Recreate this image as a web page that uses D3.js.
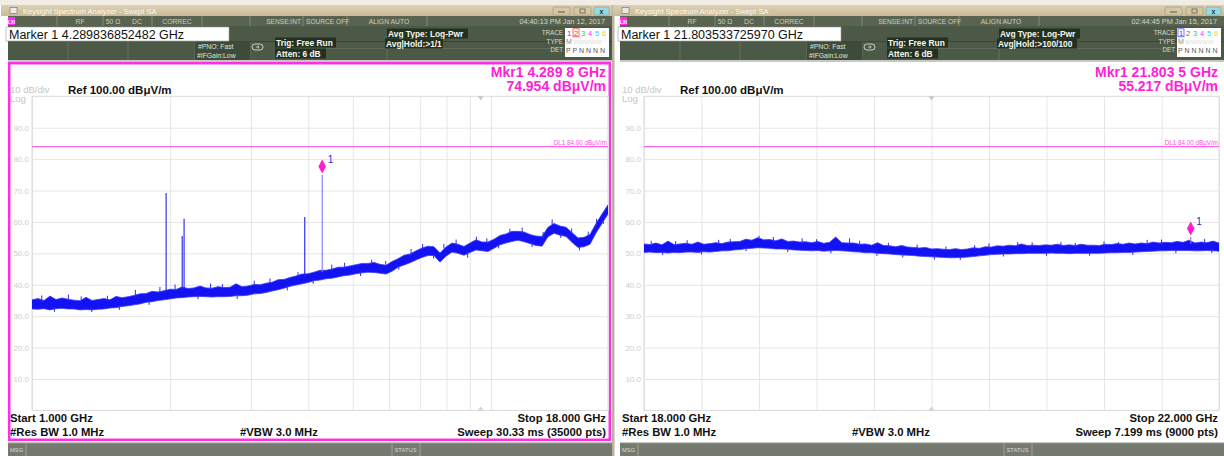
<!DOCTYPE html>
<html>
<head>
<meta charset="utf-8">
<script src="https://cdn.jsdelivr.net/npm/d3@7"></script>
<style>
body { margin: 0; background: #fff; }
svg { display: block; font-family: "Liberation Sans", Arial, sans-serif; }
</style>
</head>
<body>
<svg id="chart" width="1224" height="456"></svg>
<script>
const yTicks = [10, 20, 30, 40, 50, 60, 70, 80, 90];
const refLevel = 100;
const displayLine = 84;

// left screen: 1 - 18 GHz, log sweep
const leftSpan = [1, 18];
const leftGridGHz = [1, 2, 3, 4, 5, 6, 7, 8, 9, 10, 18];
const leftTraceHi = [35.2,35.6,35.0,36.4,35.3,35.8,35.4,35.1,34.9,36.0,
  35.0,35.3,35.6,35.2,36.3,35.9,36.2,36.6,37.1,37.2,
  37.9,37.7,38.1,38.6,38.5,39.3,38.8,39.0,39.6,39.0,
  38.9,39.4,39.1,39.2,40.3,39.4,39.6,40.1,40.0,40.5,
  40.8,41.6,41.7,42.3,42.8,43.4,43.5,44.0,44.6,44.6,
  45.0,45.6,45.6,46.0,46.4,46.8,46.8,47.1,46.5,46.2,
  47.4,48.3,49.4,49.8,50.8,51.7,52.3,52.1,50.1,52.0,
  53.3,52.9,52.2,53.3,54.3,53.6,53.6,54.5,55.7,56.2,
  57.0,57.0,56.8,56.0,55.5,55.4,58.3,59.5,58.7,58.3,
  56.6,54.9,55.1,56.0,59.5,62.5,65.5];
const leftTraceLo = [32.3,32.2,32.4,32.0,32.4,32.5,32.3,32.3,32.0,32.1,
  32.0,32.2,32.3,32.6,32.7,33.1,33.3,33.6,33.9,34.4,
  34.6,35.0,35.2,35.5,35.8,35.9,36.1,36.2,36.3,36.2,
  36.1,36.2,36.2,36.3,36.5,36.5,36.7,37.1,37.2,37.5,
  38.0,38.4,38.9,39.5,39.9,40.3,40.7,41.3,41.5,41.9,
  42.1,42.5,42.9,43.1,43.5,43.8,44.0,43.9,43.7,43.4,
  44.3,45.6,46.3,47.0,47.9,48.7,49.3,49.3,47.2,49.1,
  50.4,50.0,49.4,50.3,51.1,50.8,50.6,51.6,52.7,53.3,
  53.8,54.2,53.7,53.1,52.5,52.3,55.3,56.4,55.8,55.4,
  53.5,51.9,52.1,52.9,56.5,59.5,62.5];
// single-point noise peaks poking out of the band
const leftNoiseGHz = [1.05,1.12,1.2,1.28,1.35,1.46,1.55,1.68,1.8,1.9,2.05,2.3,2.45,2.6,2.8,3.05,
  3.3,3.6,3.8,4.1,4.5,4.8,5.2,5.5,5.9,6.3,6.7,7.1,7.5,7.9,8.4,8.9,9.3,9.8,10.4,11,11.7,
  12.3,13,13.6,14.2,15,15.6,16.3,17,17.6];
const leftNoiseTip = [36.6,31.4,36.9,36.3,31.3,36.5,32.0,38.4,33.6,39.3,40.1,35.4,40.4,40.2,35.5,41.3,
  42.0,38.2,44.0,40.3,46.4,47.0,42.8,48.0,47.6,44.8,51.4,53.0,48.4,53.0,54.4,48.6,55.3,54.8,51.6,57.8,58.2,
  52.0,56.8,60.8,54.9,57.9,51.0,56.9,61.0,59.4];
const leftSpurGHz = [1.96, 2.125, 2.145, 3.93, 4.2898];
const leftSpurTop = [69.2, 55.5, 61.0, 61.6, 74.954];
const leftSpurBase = [37.5, 38.0, 38.0, 42.5, 44.0];
const leftMarker = [4.2898, 74.954];

// right screen: 18 - 22 GHz, linear sweep
const rightSpan = [18, 22];
const rightGridGHz = [18, 18.4, 18.8, 19.2, 19.6, 20, 20.4, 20.8, 21.2, 21.6, 22];
const rightTraceHi = [53.0,52.8,53.3,52.7,53.9,52.8,53.0,53.2,52.9,53.6,
  52.9,53.1,53.4,53.1,53.6,53.7,53.8,54.5,54.2,55.0,
  54.3,54.4,54.0,54.6,53.8,53.9,53.6,53.7,53.4,53.8,
  53.2,53.5,55.2,53.4,53.3,53.3,52.9,53.0,52.6,53.4,
  52.5,52.4,52.1,52.5,52.0,51.9,51.7,51.9,51.4,51.5,
  51.3,51.2,51.5,51.2,51.4,51.8,51.6,52.1,52.0,52.4,
  52.3,52.6,52.4,53.0,52.5,52.6,52.5,52.7,52.6,52.9,
  52.5,52.7,52.5,52.9,52.6,52.6,52.5,52.9,52.8,53.1,
  52.9,53.3,53.0,53.3,53.1,53.6,53.3,53.5,53.4,53.8,
  53.5,54.2,53.3,53.6,53.4,53.9,53.3];
const rightTraceLo = [50.3,50.4,50.2,50.3,50.1,50.3,50.2,50.4,50.4,50.3,
  50.5,50.4,50.6,50.8,50.8,51.1,51.2,51.5,51.6,51.8,
  51.7,51.6,51.4,51.4,51.3,51.1,51.0,50.9,50.8,50.9,
  50.7,50.8,50.9,50.8,50.7,50.5,50.4,50.2,50.2,50.0,
  49.9,49.8,49.6,49.5,49.4,49.3,49.1,49.0,48.9,48.8,
  48.7,48.6,48.6,48.7,48.8,49.0,49.2,49.4,49.6,49.7,
  49.8,49.8,49.9,49.9,50.0,50.0,50.0,50.0,50.1,50.0,
  50.0,49.9,50.0,50.0,50.0,50.0,50.0,50.1,50.2,50.2,
  50.3,50.3,50.4,50.5,50.6,50.7,50.8,50.8,50.9,50.9,
  50.9,50.9,50.8,50.8,50.9,50.8,50.7];
const rightNoiseGHz = [18.05,18.13,18.22,18.3,18.4,18.52,18.6,18.71,18.8,18.9,19.0,19.1,19.2,19.3,19.43,
  19.5,19.62,19.7,19.8,19.9,20.02,20.1,20.2,20.3,20.4,20.5,20.6,20.7,20.8,20.9,21.0,21.1,21.2,21.3,
  21.4,21.5,21.6,21.7,21.9,21.95];
const rightNoiseTip = [54.0,49.4,53.9,54.2,49.6,54.3,54.6,50.7,55.6,55.2,50.4,54.8,54.5,50.0,54.8,
  54.0,49.2,53.4,48.7,52.8,48.0,52.2,47.9,52.6,53.2,49.0,53.6,53.5,49.2,53.6,53.3,49.2,53.8,53.6,
  49.5,54.3,54.4,50.0,54.6,50.1];
const rightSpurGHz = [21.8035];
const rightSpurTop = [55.217];
const rightSpurBase = [53.0];
const rightMarker = [21.8035, 55.217];

const leftText = {
  time: '04:40:13 PM Jan 12, 2017', marker: 'Marker 1 4.289836852482 GHz',
  hold: 'Avg|Hold:>1/1', det: 'P P N N N N', active: 2,
  mkrF: 'Mkr1 4.289 8 GHz', mkrV: '74.954 dB\u03bcV/m',
  start: 'Start 1.000 GHz', stop: 'Stop 18.000 GHz', sweep: 'Sweep  30.33 ms (35000 pts)'
};
const rightText = {
  time: '02:44:45 PM Jan 15, 2017', marker: 'Marker 1 21.803533725970 GHz',
  hold: 'Avg|Hold:>100/100', det: 'P N N N N N', active: 1,
  mkrF: 'Mkr1 21.803 5 GHz', mkrV: '55.217 dB\u03bcV/m',
  start: 'Start 18.000 GHz', stop: 'Stop 22.000 GHz', sweep: 'Sweep  7.199 ms (9000 pts)'
};

const svg = d3.select('#chart');
const FONT = '"Liberation Sans", Arial, sans-serif';

const defs = svg.append('defs');
const grad = defs.append('linearGradient').attr('id', 'tbar').attr('x1', 0).attr('x2', 0).attr('y1', 0).attr('y2', 1);
grad.append('stop').attr('offset', 0).attr('stop-color', '#ddd1b3');
grad.append('stop').attr('offset', 1).attr('stop-color', '#c9bb97');

function txt(g, x, y, s, size, fill, opts) {
  opts = opts || {};
  return g.append('text').attr('x', x).attr('y', y).text(s)
    .attr('font-size', size).attr('fill', fill)
    .attr('font-weight', opts.bold ? 'bold' : null)
    .attr('text-anchor', opts.anchor || 'start');
}

function drawWindow(ox, t, active) {
  const g = svg.append('g').attr('transform', `translate(${ox},0)`);

  // title bar
  g.append('rect').attr('x', 0).attr('y', 0).attr('width', 612).attr('height', 5).attr('fill', '#f1ede5');
  g.append('rect').attr('x', 1).attr('y', 5).attr('width', 611).attr('height', 11).attr('fill', 'url(#tbar)');
  g.append('rect').attr('x', 10).attr('y', 7.5).attr('width', 7).attr('height', 6).attr('fill', '#e9e9e9').attr('stroke', '#6c6c6c').attr('stroke-width', 0.6);
  txt(g, 23, 13.5, 'Keysight Spectrum Analyzer - Swept SA', 7.5, '#fbf8f0');
  [[553, '#d3c7a6'], [574, '#d3c7a6'], [594, '#90dbea']].forEach(([bx, c], i) => {
    g.append('rect').attr('x', bx).attr('y', 7).attr('width', i === 2 ? 15 : 17).attr('height', 8)
      .attr('fill', c).attr('stroke', '#a5946c').attr('stroke-width', 0.6).attr('rx', 1);
  });
  g.append('line').attr('x1', 558).attr('x2', 565).attr('y1', 12).attr('y2', 12).attr('stroke', '#555');
  g.append('rect').attr('x', 580).attr('y', 9).attr('width', 5).attr('height', 4).attr('fill', 'none').attr('stroke', '#555').attr('stroke-width', 0.7);
  txt(g, 601.5, 14, 'x', 7, '#333', { anchor: 'middle', bold: true });

  // status row
  g.append('rect').attr('x', 8).attr('y', 16).attr('width', 604).attr('height', 10).attr('fill', '#59634f');
  g.append('rect').attr('x', 8).attr('y', 17).attr('width', 7).attr('height', 8).attr('fill', '#ff2cf0');
  txt(g, 11.5, 23.5, 'LXI', 4.5, '#fff', { anchor: 'middle', bold: true });
  [57, 103, 152, 202, 250, 303, 347, 427].forEach(d => {
    g.append('line').attr('x1', d).attr('x2', d).attr('y1', 16).attr('y2', 26).attr('stroke', '#8b9483').attr('stroke-width', 0.8);
  });
  [['RF', 80], ['50 \u03a9', 113], ['DC', 137], ['CORREC', 177], ['ALIGN AUTO', 389]]
    .forEach(([s, cx]) => txt(g, cx, 23.8, s, 6.8, '#c9d0c2', { anchor: 'middle' }));
  txt(g, 301, 23.8, 'SENSE:INT', 6.6, '#c9d0c2', { anchor: 'end' });
  txt(g, 306, 23.8, 'SOURCE OFF', 6.6, '#c9d0c2');
  txt(g, 605, 23.8, t.time, 7.3, '#d2d8cc', { anchor: 'end' });

  // settings block
  g.append('rect').attr('x', 8).attr('y', 26).attr('width', 604).attr('height', 35).attr('fill', '#4d5947');
  g.append('line').attr('x1', 229).attr('x2', 612).attr('y1', 41.5).attr('y2', 41.5).attr('stroke', '#3a4536');
  g.append('line').attr('x1', 300).attr('x2', 560).attr('y1', 48.5).attr('y2', 48.5).attr('stroke', '#66725f').attr('stroke-width', 0.7);
  [68, 128, 195, 250, 387].forEach(d => {
    g.append('line').attr('x1', d).attr('x2', d).attr('y1', 42).attr('y2', 60).attr('stroke', '#6a7663').attr('stroke-width', 0.8);
  });
  g.append('rect').attr('x', 6).attr('y', 27).attr('width', 223).attr('height', 14).attr('fill', '#fff').attr('stroke', '#9aa094').attr('stroke-width', 0.6);
  txt(g, 9, 39, t.marker, 12.5, '#111');

  g.append('rect').attr('x', 195).attr('y', 42).attr('width', 55).attr('height', 18).attr('fill', '#3e4b3b');
  txt(g, 198, 48.8, '#PNO: Fast', 6.8, '#dfe6d8');
  txt(g, 197, 57.5, '#IFGain:Low', 6.8, '#dfe6d8');
  g.append('rect').attr('x', 252).attr('y', 44).attr('width', 11).attr('height', 6).attr('rx', 3)
    .attr('fill', 'none').attr('stroke', '#e8ece4').attr('stroke-width', 0.8);
  g.append('path').attr('d', 'M256,47 l3,0 l-1,-1.5 M259,47 l-1,1.5').attr('stroke', '#e8ece4').attr('stroke-width', 0.7).attr('fill', 'none');

  const boxes = [
    ['Trig: Free Run', 276, 45.5, 61],
    ['Atten: 6 dB', 276, 56.5, 51],
    ['Avg Type: Log-Pwr', 388, 36.5, 81],
    [t.hold, 386, 46.5, t.hold.length > 14 ? 80 : 58]
  ];
  boxes.forEach(([s, bx, by, bw]) => {
    g.append('rect').attr('x', bx - 1).attr('y', by - 8).attr('width', bw).attr('height', 10).attr('fill', '#24301f');
    txt(g, bx, by, s, 8.4, '#f4f7f0', { bold: true });
  });

  // trace info box
  g.append('rect').attr('x', 565).attr('y', 28).attr('width', 44).attr('height', 29).attr('fill', '#fff');
  [['TRACE', 35], ['TYPE', 43.5], ['DET', 52]].forEach(([s, yy]) => txt(g, 563, yy, s, 6.3, '#d5dccd', { anchor: 'end' }));
  const trColors = ['#3a3aff', '#ff2a2a', '#2ed22e', '#ff2cff', '#20d0ff', '#f2d020'];
  trColors.forEach((c, i) => {
    const cx = 569 + i * 7;
    txt(g, cx, 35.5, String(i + 1), 7.5, c, { anchor: 'middle' });
    if (i + 1 === t.active) {
      g.append('rect').attr('x', cx - 3).attr('y', 28.8).attr('width', 6).attr('height', 8)
        .attr('fill', 'none').attr('stroke', c).attr('stroke-width', 0.7);
    }
  });
  txt(g, 566, 44, 'M', 7, '#8a8a8a');
  txt(g, 573, 44, 'WWWWW', 6, '#dcdcdc');
  txt(g, 566, 52.5, t.det, 7, '#555');

  g.append('rect').attr('x', 8).attr('y', 60).attr('width', 604).attr('height', 2).attr('fill', '#c5cac0');

  // plot background
  g.append('rect').attr('x', 8).attr('y', 62).attr('width', 604).attr('height', 380).attr('fill', '#fff');

  // bottom bar
  g.append('rect').attr('x', 8).attr('y', 442).attr('width', 604).attr('height', 14).attr('fill', '#747a70');
  g.append('rect').attr('x', 8).attr('y', 442).attr('width', 604).attr('height', 1.2).attr('fill', '#c2c6be');
  [26, 392, 420].forEach(d => g.append('line').attr('x1', d).attr('x2', d).attr('y1', 443).attr('y2', 456).attr('stroke', '#9ea398'));
  txt(g, 10, 451.5, 'MSG', 5.8, '#d9dcd4');
  txt(g, 394.5, 451.5, 'STATUS', 5.8, '#d9dcd4');

  // header / footer text
  txt(g, 10, 92.5, '10 dB/div', 9.5, '#c6c6c6');
  txt(g, 10, 102, 'Log', 9.5, '#c6c6c6');
  txt(g, 68, 93.5, 'Ref 100.00 dB\u03bcV/m', 11.5, '#111', { bold: true });
  txt(g, 606, 76.5, t.mkrF, 14, '#ff1fd6', { anchor: 'end', bold: true });
  txt(g, 606, 91, t.mkrV, 14, '#ff1fd6', { anchor: 'end', bold: true });
  txt(g, 10, 422, t.start, 11.3, '#111', { bold: true });
  txt(g, 10, 436, '#Res BW 1.0 MHz', 11.3, '#111', { bold: true });
  txt(g, 240, 436, '#VBW 3.0 MHz', 11.3, '#111', { bold: true });
  txt(g, 606, 422, t.stop, 11.3, '#111', { anchor: 'end', bold: true });
  txt(g, 606, 436, t.sweep, 11.3, '#111', { anchor: 'end', bold: true });

  if (active) {
    g.append('rect').attr('x', 9.2).attr('y', 63.2).attr('width', 600.6).attr('height', 376.6)
      .attr('fill', 'none').attr('stroke', '#ff2ce8').attr('stroke-width', 2.5);
  }
  return g;
}

function drawPlot(g, x, gridGHz, centerGHz, freqs, hi, lo, noiseF, noiseTip, spurF, spurTop, spurBase, marker) {
  const [x0, x1] = x.range();
  const y = d3.scaleLinear().domain([0, refLevel]).range([410.4, 96.3]);
  const yTop = y(refLevel), yBot = y(0);

  const yAxis = d3.axisLeft(y).tickValues(yTicks).tickFormat(d3.format('.1f'))
    .tickSize(-(x1 - x0)).tickSizeOuter(0).tickPadding(3);
  const ya = g.append('g').attr('transform', `translate(${x0},0)`).call(yAxis);
  ya.select('.domain').remove();
  ya.selectAll('line').attr('stroke', '#e6e6e6');
  ya.selectAll('text').attr('fill', '#cdcdcd').attr('font-size', 8).attr('font-family', FONT);

  const xAxis = d3.axisBottom(x).tickValues(gridGHz).tickFormat('').tickSize(-(yBot - yTop)).tickSizeOuter(0);
  const xa = g.append('g').attr('transform', `translate(0,${yBot})`).call(xAxis);
  xa.select('.domain').remove();
  xa.selectAll('line').attr('stroke', '#e6e6e6');
  g.append('rect').attr('x', x0).attr('y', yTop).attr('width', x1 - x0).attr('height', yBot - yTop)
    .attr('fill', 'none').attr('stroke', '#dadada');

  // centre frequency markers
  const cx = x(centerGHz);
  g.append('path').attr('d', `M${cx - 3},${yTop} L${cx + 3},${yTop} L${cx},${yTop + 4} Z`).attr('fill', '#c4c4c4');
  g.append('path').attr('d', `M${cx - 3},${yBot} L${cx + 3},${yBot} L${cx},${yBot - 4} Z`).attr('fill', '#d4d4d4');

  // display line
  g.append('line').attr('x1', x0).attr('x2', x1).attr('y1', y(displayLine)).attr('y2', y(displayLine))
    .attr('stroke', '#ff66ea').attr('stroke-width', 1.2);
  txt(g, x1 - 1, y(displayLine) - 2, `DL1 ${displayLine.toFixed(2)} dB\u03bcV/m`, 6.3, '#ff4fe0', { anchor: 'end' });

  // trace band
  const pts = freqs.map((f, i) => ({ f, hi: hi[i], lo: lo[i] }));
  const area = d3.area().x(d => x(d.f)).y0(d => y(d.lo)).y1(d => y(d.hi));
  g.append('path').datum(pts).attr('d', area).attr('fill', '#1212f2');
  const edge = d3.line().x(d => x(d.f)).y(d => y(d.v));
  g.append('path').datum(pts.map(d => ({ f: d.f, v: d.hi }))).attr('d', edge)
    .attr('fill', 'none').attr('stroke', '#3a3aff').attr('stroke-width', 0.8);
  g.append('path').datum(pts.map(d => ({ f: d.f, v: d.lo }))).attr('d', edge)
    .attr('fill', 'none').attr('stroke', '#3a3aff').attr('stroke-width', 0.8);

  // noise peaks, drawn back to the nearest band edge
  const bis = d3.bisector(d => d).center;
  noiseF.forEach((f, i) => {
    const k = bis(freqs, f);
    const tip = noiseTip[i];
    const base = tip > hi[k] ? hi[k] - 0.5 : lo[k] + 0.5;
    g.append('line').attr('x1', x(f)).attr('x2', x(f)).attr('y1', y(base)).attr('y2', y(tip))
      .attr('stroke', '#2c2cff').attr('stroke-width', 1);
  });

  // spurs
  spurF.forEach((f, i) => {
    g.append('line').attr('x1', x(f)).attr('x2', x(f)).attr('y1', y(spurBase[i])).attr('y2', y(spurTop[i]))
      .attr('stroke', i === spurF.length - 1 ? '#7a7aff' : '#2020f4').attr('stroke-width', 1.1);
  });

  // marker
  const mx = x(marker[0]), my = y(marker[1]) - 8.5;
  g.append('path').attr('d', `M${mx},${my - 7} L${mx + 3.8},${my} L${mx},${my + 7} L${mx - 3.8},${my} Z`).attr('fill', '#ff1fd0');
  txt(g, mx + 5.5, my - 3, '1', 10, '#2a2ad8');
}

// left window (active)
const gl = drawWindow(0, leftText, true);
const xl = d3.scaleLog().domain(leftSpan).range([32, 608]);
const leftFreqs = leftTraceHi.map((_, i) => Math.pow(10, Math.log10(leftSpan[1]) * i / (leftTraceHi.length - 1)));
drawPlot(gl, xl, leftGridGHz, (leftSpan[0] + leftSpan[1]) / 2, leftFreqs, leftTraceHi, leftTraceLo,
  leftNoiseGHz, leftNoiseTip, leftSpurGHz, leftSpurTop, leftSpurBase, leftMarker);

// right window
svg.append('rect').attr('x', 612).attr('y', 0).attr('width', 2.5).attr('height', 456).attr('fill', '#b9b2a0');
const gr = drawWindow(612, rightText, false);
const xr = d3.scaleLinear().domain(rightSpan).range([32, 607]);
const rightFreqs = rightTraceHi.map((_, i) => rightSpan[0] + (rightSpan[1] - rightSpan[0]) * i / (rightTraceHi.length - 1));
drawPlot(gr, xr, rightGridGHz, (rightSpan[0] + rightSpan[1]) / 2, rightFreqs, rightTraceHi, rightTraceLo,
  rightNoiseGHz, rightNoiseTip, rightSpurGHz, rightSpurTop, rightSpurBase, rightMarker);
</script>
</body>
</html>
